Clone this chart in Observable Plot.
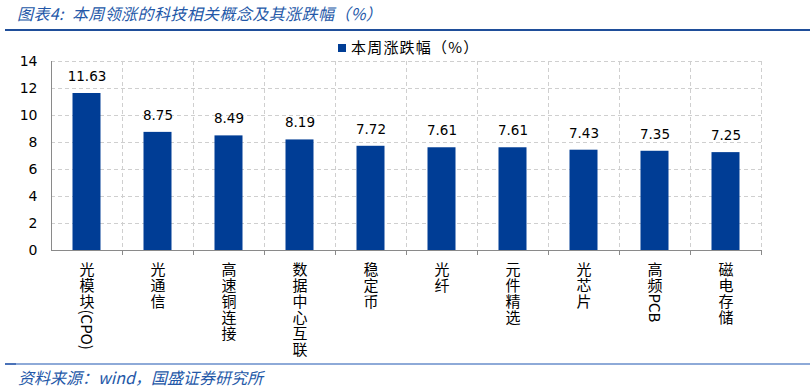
<!DOCTYPE html>
<html><head><meta charset="utf-8">
<script src="https://cdn.jsdelivr.net/npm/d3@7"></script>
<script src="https://cdn.jsdelivr.net/npm/@observablehq/plot@0.6"></script>
<style>
body{margin:0;background:#fff;}
#wrap{position:relative;width:810px;height:389px;overflow:hidden;font-family:"Noto Sans CJK SC","Noto Sans",sans-serif;}
#chart{position:absolute;left:0;top:0;}
#title{position:absolute;left:17px;top:2px;font-size:16px;line-height:22px;font-style:italic;color:#2458a8;white-space:nowrap;letter-spacing:0.4px;}
#tline{position:absolute;left:5px;top:29px;width:805px;height:2px;background:#1f4e9a;}
#legend{position:absolute;left:338px;top:37px;font-size:15px;line-height:20px;color:#000;white-space:nowrap;letter-spacing:1.2px;}
#legend .sw{display:inline-block;width:8px;height:8px;background:#003d95;margin-right:5px;vertical-align:1px;}
#fline{position:absolute;left:5px;top:363px;width:805px;height:2px;background:#8eaad8;}
#fline2{position:absolute;left:5px;top:363px;width:11px;height:2px;background:#4a72b8;}
#source{position:absolute;left:18px;top:366px;font-size:16px;line-height:22px;font-style:italic;color:#2458a8;white-space:nowrap;}
</style></head><body>
<div id="wrap">
  <div id="chart"></div>
  <div id="title">图表4:&nbsp; 本周领涨的科技相关概念及其涨跌幅（%）</div>
  <div id="tline"></div>
  <div id="legend"><span class="sw"></span>本周涨跌幅（%）</div>
  <div id="fline"></div><div id="fline2"></div>
  <div id="source">资料来源：wind，国盛证券研究所</div>
</div>
<script>
const categories = ["光模块(CPO)","光通信","高速铜连接","数据中心互联","稳定币","光纤","元件精选","光芯片","高频PCB","磁电存储"];
const values = [11.63, 8.75, 8.49, 8.19, 7.72, 7.61, 7.61, 7.43, 7.35, 7.25];
const yTicks = [0, 2, 4, 6, 8, 10, 12, 14];

const data = categories.map((c, i) => ({cat: c, val: values[i]}));

const W = 810, H = 389, mL = 51, mR = 49, mT = 61, mB = 139;
const step = (W - mL - mR) / categories.length;
const half = step / 2;
const barW = 28;
const inset = (step - barW) / 2;
const gridColor = "#cfcfcf";
const axisColor = "#8a8a8a";

const chart = Plot.plot({
  width: W, height: H,
  marginLeft: mL, marginRight: mR, marginTop: mT, marginBottom: mB,
  x: {domain: categories, padding: 0, axis: null},
  y: {domain: [0, 14], axis: null},
  style: {background: "transparent", fontFamily: "'DejaVu Sans', sans-serif"},
  marks: [
    Plot.ruleY(yTicks.filter(d => d > 0), {stroke: gridColor, strokeDasharray: "4,3"}),
    Plot.ruleX(categories, {x: d => d, dx: half, stroke: gridColor, strokeDasharray: "4,3"}),
    Plot.barY(data, {x: "cat", y: "val", fill: "#003d95", insetLeft: inset, insetRight: inset}),
    Plot.ruleY([0], {stroke: axisColor}),
    Plot.ruleX([categories[0]], {x: d => d, dx: -half, stroke: axisColor}),
    Plot.ruleX(categories, {x: d => d, dx: half, y1: 0, y2: 0, insetBottom: -5, stroke: axisColor}),
    Plot.axisY(yTicks, {tickSize: 0, tickPadding: 14, fontSize: 14, fill: "#000", label: null}),
    Plot.text(data, {x: "cat", y: "val", text: d => d.val.toFixed(2), dy: -17, fontSize: 13.5, fill: "#000"}),
    Plot.text(categories, {x: d => d, frameAnchor: "bottom", dy: 11, textAnchor: "start", fontSize: 15, fill: "#000", fontFamily: "'Noto Sans CJK SC', sans-serif"})
  ]
});

const catSet = new Set(categories);
d3.select(chart).selectAll("text").each(function() {
  const s = this.textContent;
  if (!catSet.has(s)) return;
  const t = d3.select(this).attr("writing-mode", "vertical-rl").attr("dy", null);
  t.text(null);
  const runs = s.match(/[\u3400-\u9fff]+|[^\u3400-\u9fff]+/g);
  runs.forEach(r => {
    const cjk = /[\u3400-\u9fff]/.test(r);
    t.append("tspan").text(r).style("letter-spacing", cjk ? "1px" : "0px");
  });
});
document.getElementById("chart").appendChild(chart);
</script>
</body></html>
